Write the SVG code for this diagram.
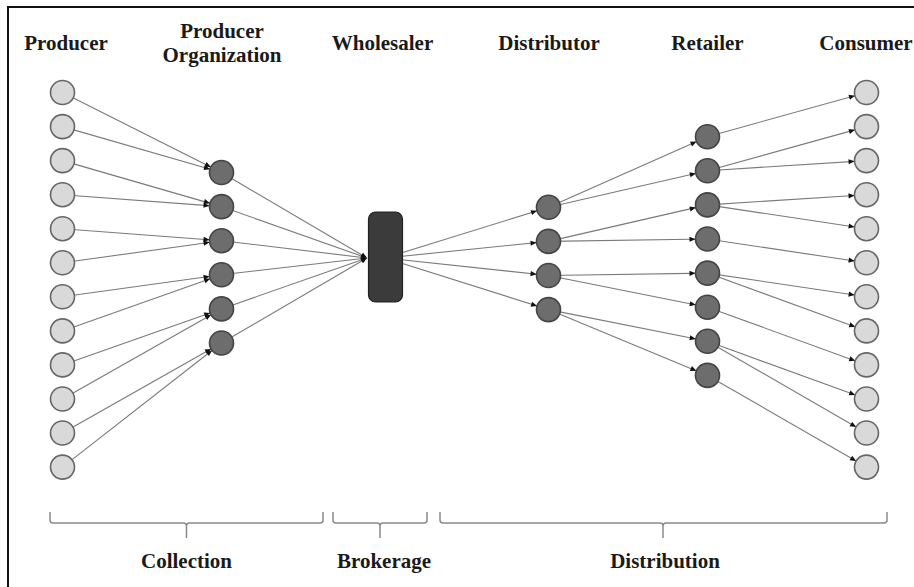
<svg xmlns="http://www.w3.org/2000/svg" width="914" height="587" viewBox="0 0 914 587">
  <style>
    .lbl { font-family: "Liberation Serif", "Times New Roman", serif; font-weight: bold; font-size: 21px; fill: #1a1a1a; text-anchor: middle; }
    .edge { stroke: #7a7a7a; stroke-width: 1.1; fill: none; }
    .light { fill: #d9d9d9; stroke: #666666; stroke-width: 1.6; }
    .dark { fill: #6d6d6d; stroke: #444444; stroke-width: 1.6; }
    .brace { stroke: #8a8a8a; stroke-width: 1.5; fill: none; }
  </style>
  <defs>
    <!-- arrowhead whose tip stops at the rim of a 12px-radius circle -->
    <marker id="toNode" markerUnits="userSpaceOnUse" markerWidth="20" markerHeight="10" viewBox="0 -5 20 10" refX="20" refY="0" orient="auto">
      <path d="M2,-2.6 L8,0 L2,2.6 z" fill="#111"/>
    </marker>
    <!-- arrowhead whose tip sits exactly on the line end -->
    <marker id="toEnd" markerUnits="userSpaceOnUse" markerWidth="10" markerHeight="10" viewBox="0 -5 10 10" refX="8" refY="0" orient="auto">
      <path d="M2,-2.6 L8,0 L2,2.6 z" fill="#111"/>
    </marker>
  </defs>

  <rect x="8" y="7" width="920" height="600" fill="#ffffff" stroke="#111" stroke-width="2"/>

  <!-- column headings -->
  <g id="headings">
    <text class="lbl" x="66" y="50">Producer</text>
    <text class="lbl" x="222" y="38">Producer</text>
    <text class="lbl" x="222" y="62">Organization</text>
    <text class="lbl" x="382.5" y="50">Wholesaler</text>
    <text class="lbl" x="549" y="50">Distributor</text>
    <text class="lbl" x="707.5" y="50">Retailer</text>
    <text class="lbl" x="866" y="50">Consumer</text>
  </g>

  <g id="connectors">
    <!-- producers to producer organizations -->
    <g class="edge" marker-end="url(#toNode)">
      <line x1="62.5" y1="92.5" x2="221.5" y2="172.5"/>
      <line x1="62.5" y1="126.6" x2="221.5" y2="172.5"/>
      <line x1="62.5" y1="160.6" x2="221.5" y2="206.6"/>
      <line x1="62.5" y1="194.7" x2="221.5" y2="206.6"/>
      <line x1="62.5" y1="228.7" x2="221.5" y2="240.7"/>
      <line x1="62.5" y1="262.8" x2="221.5" y2="240.7"/>
      <line x1="62.5" y1="296.8" x2="221.5" y2="274.8"/>
      <line x1="62.5" y1="330.9" x2="221.5" y2="274.8"/>
      <line x1="62.5" y1="364.9" x2="221.5" y2="308.9"/>
      <line x1="62.5" y1="399.0" x2="221.5" y2="308.9"/>
      <line x1="62.5" y1="433.0" x2="221.5" y2="343.0"/>
      <line x1="62.5" y1="467.1" x2="221.5" y2="343.0"/>
    </g>
    <!-- producer organizations to wholesaler -->
    <g class="edge" marker-end="url(#toEnd)">
      <line x1="221.5" y1="172.5" x2="367" y2="258"/>
      <line x1="221.5" y1="206.6" x2="367" y2="258"/>
      <line x1="221.5" y1="240.7" x2="367" y2="258"/>
      <line x1="221.5" y1="274.8" x2="367" y2="258"/>
      <line x1="221.5" y1="308.9" x2="367" y2="258"/>
      <line x1="221.5" y1="343.0" x2="367" y2="258"/>
    </g>
    <!-- wholesaler to distributors, distributors to retailers, retailers to consumers -->
    <g class="edge" marker-end="url(#toNode)">
      <line x1="385" y1="258" x2="548.5" y2="207.3"/>
      <line x1="385" y1="258" x2="548.5" y2="241.4"/>
      <line x1="385" y1="258" x2="548.5" y2="275.5"/>
      <line x1="385" y1="258" x2="548.5" y2="309.6"/>

      <line x1="548.5" y1="207.3" x2="707.5" y2="136.7"/>
      <line x1="548.5" y1="207.3" x2="707.5" y2="170.8"/>
      <line x1="548.5" y1="241.4" x2="707.5" y2="204.9"/>
      <line x1="548.5" y1="241.4" x2="707.5" y2="239.0"/>
      <line x1="548.5" y1="275.5" x2="707.5" y2="273.1"/>
      <line x1="548.5" y1="275.5" x2="707.5" y2="307.2"/>
      <line x1="548.5" y1="309.6" x2="707.5" y2="341.3"/>
      <line x1="548.5" y1="309.6" x2="707.5" y2="375.4"/>

      <line x1="707.5" y1="136.7" x2="866.5" y2="92.5"/>
      <line x1="707.5" y1="170.8" x2="866.5" y2="126.6"/>
      <line x1="707.5" y1="170.8" x2="866.5" y2="160.6"/>
      <line x1="707.5" y1="204.9" x2="866.5" y2="194.7"/>
      <line x1="707.5" y1="204.9" x2="866.5" y2="228.7"/>
      <line x1="707.5" y1="239.0" x2="866.5" y2="262.8"/>
      <line x1="707.5" y1="273.1" x2="866.5" y2="296.8"/>
      <line x1="707.5" y1="273.1" x2="866.5" y2="330.9"/>
      <line x1="707.5" y1="307.2" x2="866.5" y2="364.9"/>
      <line x1="707.5" y1="341.3" x2="866.5" y2="399.0"/>
      <line x1="707.5" y1="341.3" x2="866.5" y2="433.0"/>
      <line x1="707.5" y1="375.4" x2="866.5" y2="467.1"/>
    </g>
  </g>

  <!-- producers -->
  <g id="producers" class="light">
    <circle id="producer-1" cx="62.5" cy="92.5" r="12"/>
    <circle id="producer-2" cx="62.5" cy="126.6" r="12"/>
    <circle id="producer-3" cx="62.5" cy="160.6" r="12"/>
    <circle id="producer-4" cx="62.5" cy="194.7" r="12"/>
    <circle id="producer-5" cx="62.5" cy="228.7" r="12"/>
    <circle id="producer-6" cx="62.5" cy="262.8" r="12"/>
    <circle id="producer-7" cx="62.5" cy="296.8" r="12"/>
    <circle id="producer-8" cx="62.5" cy="330.9" r="12"/>
    <circle id="producer-9" cx="62.5" cy="364.9" r="12"/>
    <circle id="producer-10" cx="62.5" cy="399.0" r="12"/>
    <circle id="producer-11" cx="62.5" cy="433.0" r="12"/>
    <circle id="producer-12" cx="62.5" cy="467.1" r="12"/>
  </g>

  <!-- producer organizations -->
  <g id="producer-organizations" class="dark">
    <circle id="po-1" cx="221.5" cy="172.5" r="12"/>
    <circle id="po-2" cx="221.5" cy="206.6" r="12"/>
    <circle id="po-3" cx="221.5" cy="240.7" r="12"/>
    <circle id="po-4" cx="221.5" cy="274.8" r="12"/>
    <circle id="po-5" cx="221.5" cy="308.9" r="12"/>
    <circle id="po-6" cx="221.5" cy="343.0" r="12"/>
  </g>

  <!-- wholesaler -->
  <g id="wholesaler">
    <rect x="368.5" y="212" width="34" height="90" rx="7" fill="#3b3b3b" stroke="#222" stroke-width="1.2"/>
  </g>

  <!-- distributors -->
  <g id="distributors" class="dark">
    <circle id="distributor-1" cx="548.5" cy="207.3" r="12"/>
    <circle id="distributor-2" cx="548.5" cy="241.4" r="12"/>
    <circle id="distributor-3" cx="548.5" cy="275.5" r="12"/>
    <circle id="distributor-4" cx="548.5" cy="309.6" r="12"/>
  </g>

  <!-- retailers -->
  <g id="retailers" class="dark">
    <circle id="retailer-1" cx="707.5" cy="136.7" r="12"/>
    <circle id="retailer-2" cx="707.5" cy="170.8" r="12"/>
    <circle id="retailer-3" cx="707.5" cy="204.9" r="12"/>
    <circle id="retailer-4" cx="707.5" cy="239.0" r="12"/>
    <circle id="retailer-5" cx="707.5" cy="273.1" r="12"/>
    <circle id="retailer-6" cx="707.5" cy="307.2" r="12"/>
    <circle id="retailer-7" cx="707.5" cy="341.3" r="12"/>
    <circle id="retailer-8" cx="707.5" cy="375.4" r="12"/>
  </g>

  <!-- consumers -->
  <g id="consumers" class="light">
    <circle id="consumer-1" cx="866.5" cy="92.5" r="12"/>
    <circle id="consumer-2" cx="866.5" cy="126.6" r="12"/>
    <circle id="consumer-3" cx="866.5" cy="160.6" r="12"/>
    <circle id="consumer-4" cx="866.5" cy="194.7" r="12"/>
    <circle id="consumer-5" cx="866.5" cy="228.7" r="12"/>
    <circle id="consumer-6" cx="866.5" cy="262.8" r="12"/>
    <circle id="consumer-7" cx="866.5" cy="296.8" r="12"/>
    <circle id="consumer-8" cx="866.5" cy="330.9" r="12"/>
    <circle id="consumer-9" cx="866.5" cy="364.9" r="12"/>
    <circle id="consumer-10" cx="866.5" cy="399.0" r="12"/>
    <circle id="consumer-11" cx="866.5" cy="433.0" r="12"/>
    <circle id="consumer-12" cx="866.5" cy="467.1" r="12"/>
  </g>

  <!-- stage braces and labels -->
  <g id="stage-collection">
    <path class="brace" d="M50,512 L50,520 Q50,523 53,523 L183.5,523 Q186.5,523 186.5,526 L186.5,538 M186.5,526 Q186.5,523 189.5,523 L320,523 Q323,523 323,520 L323,512"/>
    <text class="lbl" x="186.5" y="568">Collection</text>
  </g>
  <g id="stage-brokerage">
    <path class="brace" d="M333,512 L333,520 Q333,523 336,523 L377,523 Q380,523 380,526 L380,538 M380,526 Q380,523 383,523 L424,523 Q427,523 427,520 L427,512"/>
    <text class="lbl" x="384" y="568">Brokerage</text>
  </g>
  <g id="stage-distribution">
    <path class="brace" d="M440,512 L440,520 Q440,523 443,523 L660,523 Q663,523 663,526 L663,538 M663,526 Q663,523 666,523 L884,523 Q887,523 887,520 L887,512"/>
    <text class="lbl" x="665" y="568">Distribution</text>
  </g>
</svg>
